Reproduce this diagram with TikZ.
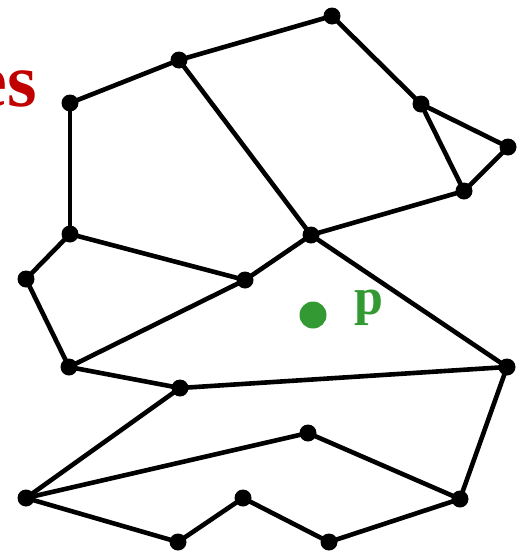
\documentclass[tikz,border=0pt]{standalone}
\usepackage{fontspec}
\setmainfont{Liberation Serif}
\usetikzlibrary{positioning}
\definecolor{titlered}{HTML}{C00000}
\definecolor{ptgreen}{HTML}{339933}
\tikzset{
  % planar map
  pv/.style={circle,fill=black,inner sep=0pt,minimum size=17pt},
  pe/.style={draw=black,line width=4.6pt,line cap=round,line join=round},
  qpt/.style={circle,fill=ptgreen,inner sep=0pt,minimum size=27pt},
  qlab/.style={text=ptgreen,font=\fontsize{52}{52}\selectfont\bfseries,inner sep=0pt},
  ttl/.style={text=titlered,font=\fontsize{76}{76}\selectfont\bfseries,inner sep=0pt},
}
\begin{document}
\begin{tikzpicture}[x=1pt,y=-1pt]
  \useasboundingbox (0,0) rectangle (529,555);
  \clip (0,0) rectangle (529,555);
  \node[ttl,anchor=base east] (ttl) at (37,106) {es};
  % vertices
  \foreach \n/\x/\y in {a/332/16,b/179/60,c/70/103,d/421/104,e/508/147,f/464/191,
      g/311/235,h/70/234,i/26/279,j/245/280,k/69/367,l/180/388,m/507/367,
      n/308/433,o/26/498,pp/243/498,q/460/499,r/178/542,s/329/542}
    \coordinate (\n) at (\x,\y);
  % edges
  \foreach \u/\v in {c/b,b/a,a/d,d/e,e/f,d/f,f/g,b/g,c/h,h/j,j/g,h/i,i/k,k/j,
      k/l,l/m,g/m,m/q,l/o,o/n,n/q,o/r,r/pp,pp/s,s/q}
    \draw[pe] (\u) -- (\v);
  \foreach \n in {a,b,c,d,e,f,g,h,i,j,k,l,m,n,o,pp,q,r,s}
    \node[pv] (v\n) at (\n) {};
  % query point
  \node[qpt] (qp) at (313,315) {};
  \node[qlab,anchor=base west] (ql) at (354,314) {p};
\end{tikzpicture}
\end{document}
